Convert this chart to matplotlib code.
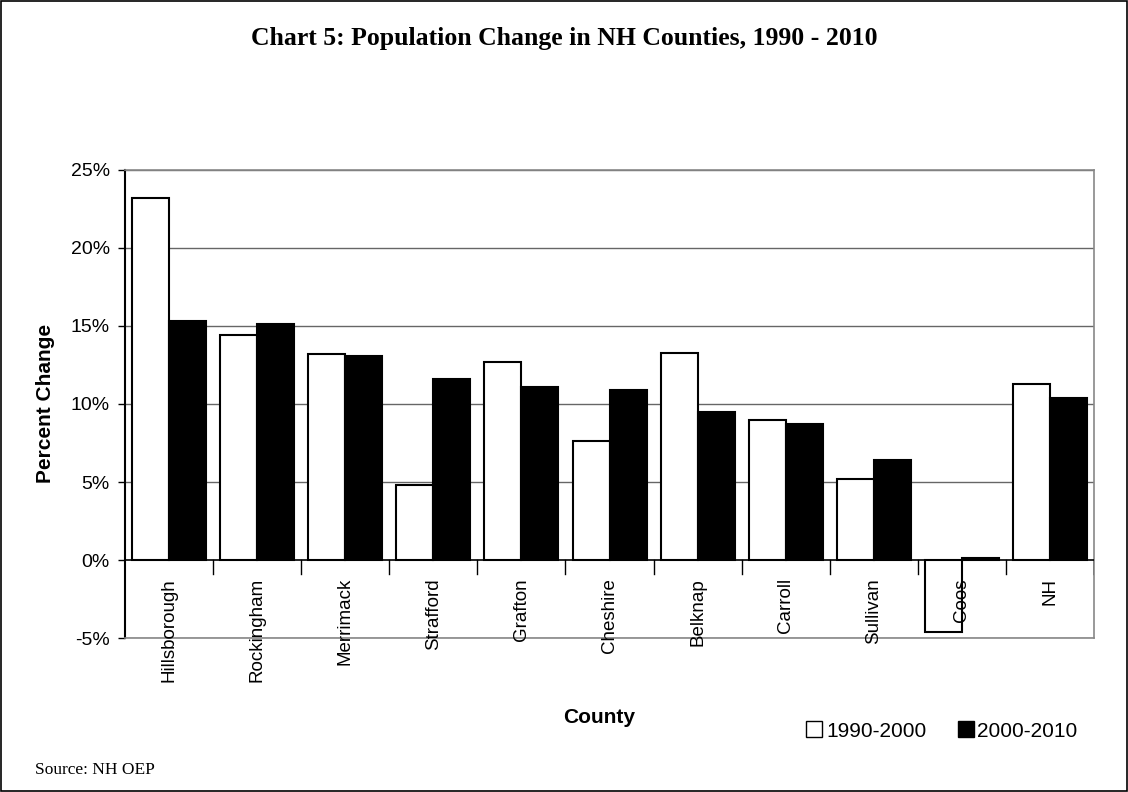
import numpy as np
import matplotlib.pyplot as plt
from matplotlib.lines import Line2D
from matplotlib.patches import Rectangle

# === 数据 ===
counties = ["Hillsborough", "Rockingham", "Merrimack", "Strafford", "Grafton",
            "Cheshire", "Belknap", "Carroll", "Sullivan", "Coos", "NH"]
change_1990_2000 = [23.2, 14.4, 13.2, 4.8, 12.7, 7.6, 13.3, 9.0, 5.2, -4.6, 11.3]
change_2000_2010 = [15.3, 15.1, 13.1, 11.6, 11.1, 10.9, 9.5, 8.7, 6.4, 0.1, 10.4]
series_labels = ["1990-2000", "2000-2010"]
yticks = [-5, 0, 5, 10, 15, 20, 25]

SANS = "Liberation Sans"
SERIF = "Liberation Serif"

# === 画布 ===
fig = plt.figure(figsize=(11.28, 7.92), dpi=100)
ax = fig.add_axes([0.1108, 0.1944, 0.8591, 0.591])

x = np.arange(len(counties))
w = 0.42
ax.bar(x - w / 2, change_1990_2000, width=w, color="white", edgecolor="black",
       linewidth=1.5, zorder=3)
ax.bar(x + w / 2, change_2000_2010, width=w, color="black", edgecolor="black",
       linewidth=1.5, zorder=3)

ax.set_xlim(-0.5, len(counties) - 0.5)
ax.set_ylim(-5, 25)
ax.set_yticks(yticks)
ax.set_yticklabels([f"{t}%" for t in yticks], fontsize=14, family=SANS)
ax.tick_params(axis="y", direction="out", length=5, width=1, pad=6)

# 网格线
for t in yticks:
    if t != 0:
        ax.axhline(t, color="#666666", linewidth=1, zorder=1)
ax.axhline(0, color="black", linewidth=1.2, zorder=4)

for s in ["top", "right", "bottom"]:
    ax.spines[s].set_color("#888888")
    ax.spines[s].set_linewidth(1.2)
ax.spines["left"].set_color("black")
ax.spines["left"].set_linewidth(1.5)

# x 轴刻度在 0 线上
ax.set_xticks([])
for b in np.arange(0.5, len(counties), 1.0):
    ax.plot([b, b], [0, -0.9], color="black", linewidth=1, zorder=4)
for xi, name in zip(x, counties):
    ax.annotate(name, (xi, 0), xytext=(0, -13), textcoords="offset points",
                rotation=90, ha="center", va="top", fontsize=13.5,
                family=SANS, zorder=5)

# === 文本 ===
fig.text(0.5, 0.952, "Chart 5: Population Change in NH Counties, 1990 - 2010",
         ha="center", va="center", fontsize=18.5, fontweight="bold", family=SERIF)
fig.text(0.04, 0.49, "Percent Change", rotation=90, ha="center", va="center",
         fontsize=15, fontweight="bold", family=SANS)
fig.text(0.531, 0.094, "County", ha="center", va="center",
         fontsize=15, fontweight="bold", family=SANS)
fig.text(0.031, 0.028, "Source: NH OEP", ha="left", va="center",
         fontsize=12.5, family=SERIF)

handles = [Line2D([], [], marker="s", linestyle="none", markersize=12,
                  markerfacecolor="white", markeredgecolor="black"),
           Line2D([], [], marker="s", linestyle="none", markersize=12,
                  markerfacecolor="black", markeredgecolor="black")]
fig.legend(handles, series_labels, loc="center", bbox_to_anchor=(0.834, 0.077),
           ncol=2, frameon=False, handletextpad=0.05, handlelength=1.0,
           columnspacing=1.4, prop={"family": SANS, "size": 15})

# 外框
fig.patches.append(Rectangle((0.001, 0.001), 0.998, 0.998, transform=fig.transFigure,
                             fill=False, edgecolor="black", linewidth=1.2))

fig.savefig("out.png", dpi=100)
